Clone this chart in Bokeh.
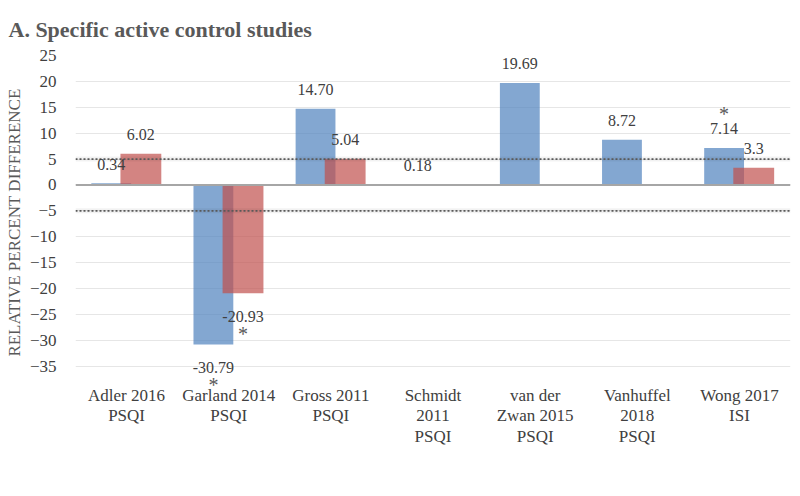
import math
from bokeh.plotting import figure
from bokeh.models import (ColumnDataSource, Span, FixedTicker, Legend, LegendItem, LabelSet)
from bokeh.core.properties import value
from bokeh.embed import file_html
from bokeh.resources import INLINE

# ---- data ----
studies = ["Adler 2016\nPSQI", "Garland 2014\nPSQI", "Gross 2011\nPSQI",
           "Schmidt\n2011\nPSQI", "van der\nZwan 2015\nPSQI", "Vanhuffel\n2018\nPSQI",
           "Wong 2017\nISI"]
post = [0.34, -30.79, 14.70, 0.18, 19.69, 8.72, 7.14]
post_labels = ["0.34", "-30.79", "14.70", "0.18", "19.69", "8.72", "7.14"]
post_sig = [False, True, False, False, False, False, True]
follow = [6.02, -20.93, 5.04, None, None, None, 3.3]
follow_labels = ["6.02", "-20.93", "5.04", "", "", "", "3.3"]
follow_sig = [False, True, False, False, False, False, False]
y_ticks = [25, 20, 15, 10, 5, 0, -5, -10, -15, -20, -25, -30, -35]
ref_lines = [5, -5]

FONT = "Liberation Serif"
BLUE = "#4f81bd"
RED = "#c0504d"
TXT = "#404040"

idx = list(range(len(studies)))

# the frame reaches a little below -35 so that the labels under the lowest bar show
p = figure(frame_width=715, frame_height=334, output_backend="svg", toolbar_location=None,
           x_range=(-0.5, 6.5), y_range=(-39.5, 25),
           min_border_left=75, min_border_right=10, min_border_top=55, min_border_bottom=10)
p.outline_line_color = None
p.background_fill_color = "white"

p.title.text = "A. Specific active control studies"
p.title.text_font = FONT
p.title.text_font_size = "22px"
p.title.text_font_style = "bold"
p.title.text_color = "#595959"
p.title.offset = -67
p.title.standoff = 28
p.title.text_line_height = 0.7

# bars
post_src = ColumnDataSource(dict(x=[i - 0.15 for i in idx], top=post, lab=post_labels))
fx = [i + 0.14 for i, v in zip(idx, follow) if v is not None]
fv = [v for v in follow if v is not None]
fl = [l for l, v in zip(follow_labels, follow) if v is not None]
fol_src = ColumnDataSource(dict(x=fx, top=fv, lab=fl))

r_post = p.vbar(x="x", top="top", bottom=0, width=0.39, source=post_src,
                fill_color=BLUE, fill_alpha=0.7, line_color=None)
r_fol = p.vbar(x="x", top="top", bottom=0, width=0.40, source=fol_src,
               fill_color=RED, fill_alpha=0.7, line_color=None)

# reference lines
p.add_layout(Span(location=0, dimension="width", line_color="#a6a6a6", line_width=2))
for rl in ref_lines:
    p.add_layout(Span(location=rl, dimension="width", line_color="#000000",
                      line_alpha=0.05, line_width=5))
    p.add_layout(Span(location=rl, dimension="width", line_color="#595959",
                      line_width=1.8, line_dash="2 2"))

# value labels
def labelset(d, off, size, color):
    return LabelSet(x="x", y="y", text="t", source=ColumnDataSource(d), y_offset=off,
                    text_align="center", text_baseline="middle", text_font=value(FONT),
                    text_font_size=size, text_color=color)

def add_labels(xs, vals, labs, sigs):
    pos = dict(x=[], y=[], t=[])
    neg = dict(x=[], y=[], t=[])
    sp = dict(x=[], y=[], t=[])
    sn = dict(x=[], y=[], t=[])
    for x, v, l, s in zip(xs, vals, labs, sigs):
        d = pos if v >= 0 else neg
        d["x"].append(x); d["y"].append(v); d["t"].append(l)
        if s:
            d2 = sp if v >= 0 else sn
            d2["x"].append(x); d2["y"].append(v); d2["t"].append("*")
    p.add_layout(labelset(pos, 19, "16px", TXT))
    p.add_layout(labelset(neg, -23, "16px", TXT))
    p.add_layout(labelset(sp, 34, "20px", "#595959"))
    p.add_layout(labelset(sn, -41, "20px", "#595959"))

add_labels([i - 0.15 for i in idx], post, post_labels, post_sig)
fs = [s for s, v in zip(follow_sig, follow) if v is not None]
add_labels(fx, fv, fl, fs)

# axes
p.xaxis.ticker = FixedTicker(ticks=idx)
p.xaxis.major_label_overrides = {i: s for i, s in zip(idx, studies)}
p.xaxis.major_label_text_font = FONT
p.xaxis.major_label_text_font_size = "17px"
p.xaxis.major_label_text_color = TXT
p.xaxis.major_label_text_line_height = 1.1
p.xaxis.major_label_standoff = -10
p.xaxis.axis_line_color = None
p.xaxis.major_tick_line_color = None
p.xaxis.minor_tick_line_color = None

p.yaxis.ticker = FixedTicker(ticks=y_ticks)
p.yaxis.major_label_text_font = FONT
p.yaxis.major_label_text_font_size = "17px"
p.yaxis.major_label_text_color = TXT
p.yaxis.major_label_standoff = 13
p.yaxis.axis_line_color = None
p.yaxis.major_tick_line_color = None
p.yaxis.minor_tick_line_color = None
p.yaxis.axis_label = "RELATIVE PERCENT DIFFERENCE"
p.yaxis.axis_label_text_font = FONT
p.yaxis.axis_label_text_font_size = "17px"
p.yaxis.axis_label_text_font_style = "normal"
p.yaxis.axis_label_text_color = "#595959"
p.yaxis.axis_label_standoff = 3

p.xgrid.grid_line_color = None
p.ygrid.grid_line_color = "#e6e6e6"
p.ygrid.ticker = FixedTicker(ticks=y_ticks)

legend = Legend(items=[LegendItem(label="Post-intervention", renderers=[r_post]),
                       LegendItem(label="Follow-up (5-12 month)", renderers=[r_fol])],
                orientation="horizontal", location="center",
                label_text_font=FONT, label_text_font_size="17px", label_text_color=TXT,
                glyph_width=9, glyph_height=9, spacing=20, label_standoff=5,
                label_height=18, border_line_color=None, background_fill_alpha=0,
                margin=0, padding=1)
p.add_layout(legend, "below")

open("out.html", "w").write(file_html(p, INLINE))
